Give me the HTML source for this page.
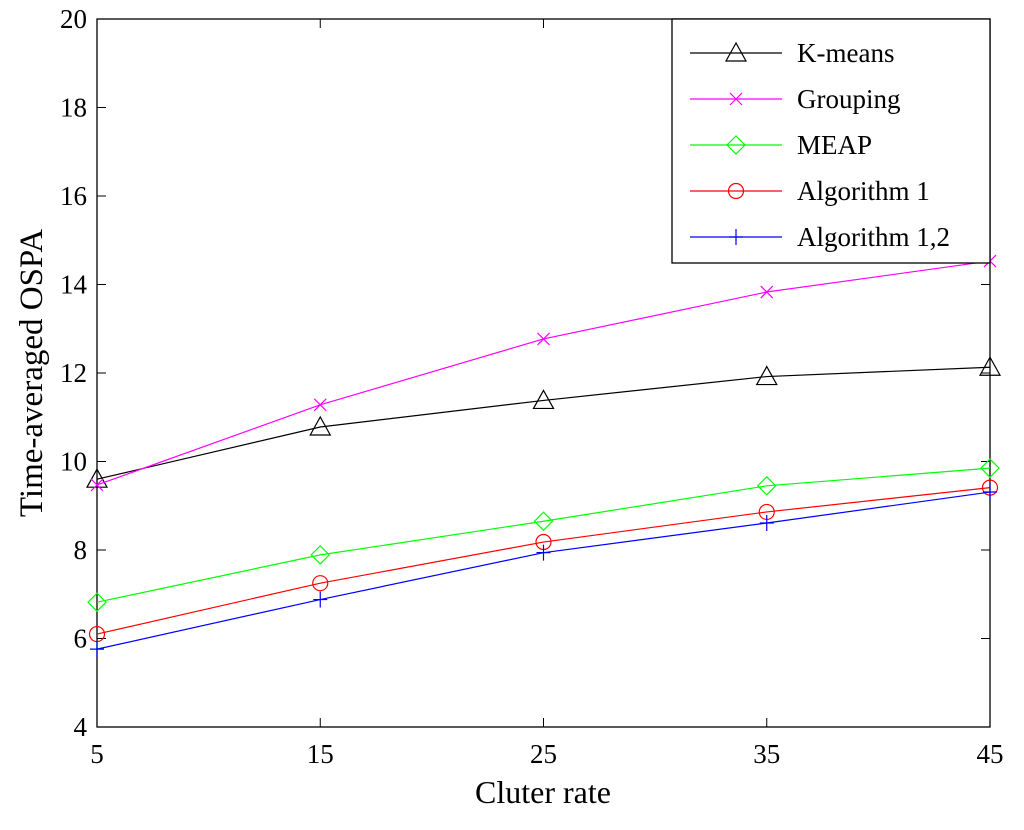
<!DOCTYPE html>
<html><head><meta charset="utf-8"><style>
body{margin:0;background:#fff}
svg text{font-family:"Liberation Serif",serif;fill:#000}
</style></head><body>
<svg id="chart" width="1024" height="825" xmlns="http://www.w3.org/2000/svg">
<rect x="0" y="0" width="1024" height="825" fill="#fff"/>
<g id="axes"></g>
<g id="series"></g>
<g id="legend"></g>
<text x="543" y="803" font-size="32" text-anchor="middle">Cluter rate</text>
<text transform="translate(42,373) rotate(-90)" font-size="33" text-anchor="middle">Time-averaged OSPA</text>
</svg>
<script>
const categories=[5,15,25,35,45];
const xTicks=[5,15,25,35,45];
const yTicks=[4,6,8,10,12,14,16,18,20];
const seriesNames=["K-means","Grouping","MEAP","Algorithm 1","Algorithm 1,2"];
const kmeans=[9.6,10.78,11.38,11.92,12.13];
const grouping=[9.47,11.28,12.77,13.83,14.53];
const meap=[6.82,7.89,8.65,9.45,9.85];
const alg1=[6.1,7.25,8.18,8.86,9.41];
const alg12=[5.76,6.88,7.94,8.61,9.31];
const colors=["#000","#ff00ff","#00ff00","#ff0000","#0000ff"];
const markers=["tri","x","dia","circ","plus"];
const allSeries=[kmeans,grouping,meap,alg1,alg12];
const L=97,R=990,T=19,B=727;
const xs=v=>L+(v-5)/40*(R-L);
const ys=v=>B-(v-4)/16*(B-T);
const NS="http://www.w3.org/2000/svg";
function mk(tag,attrs,parent){const e=document.createElementNS(NS,tag);for(const k in attrs)e.setAttribute(k,attrs[k]);parent.appendChild(e);return e;}
const ax=document.getElementById('axes');
const frame=mk('rect',{x:L,y:T,width:R-L,height:B-T,fill:'none',stroke:'#000','stroke-width':1.3},ax);


xTicks.forEach(v=>{const x=xs(v);
mk('line',{x1:x,y1:B,x2:x,y2:B-9,stroke:'#000'},ax);
mk('line',{x1:x,y1:T,x2:x,y2:T+9,stroke:'#000'},ax);
const t=mk('text',{x:x,y:B+36,'font-size':27,'text-anchor':'middle'},ax);t.textContent=v;

});
yTicks.forEach(v=>{const y=ys(v);
mk('line',{x1:L,y1:y,x2:L+9,y2:y,stroke:'#000'},ax);
mk('line',{x1:R,y1:y,x2:R-9,y2:y,stroke:'#000'},ax);
const t=mk('text',{x:L-10,y:y+9,'font-size':27,'text-anchor':'end'},ax);t.textContent=v;

});
function marker(type,x,y,c,p){
if(type==='tri')mk('polygon',{points:`${x},${y-10} ${x-10},${y+8} ${x+10},${y+8}`,fill:'none',stroke:c,'stroke-width':1.2},p);
else if(type==='x'){mk('path',{d:`M${x-6},${y-6}L${x+6},${y+6}M${x-6},${y+6}L${x+6},${y-6}`,stroke:c,'stroke-width':1.2},p);}
else if(type==='dia')mk('polygon',{points:`${x},${y-9} ${x+9},${y} ${x},${y+9} ${x-9},${y}`,fill:'none',stroke:c,'stroke-width':1.2},p);
else if(type==='circ')mk('circle',{cx:x,cy:y,r:7.5,fill:'none',stroke:c,'stroke-width':1.2},p);
else mk('path',{d:`M${x-7},${y}L${x+7},${y}M${x},${y-8}L${x},${y+8}`,stroke:c,'stroke-width':1.2},p);}
const sg=document.getElementById('series');
allSeries.forEach((s,i)=>{const g=mk('g',{},sg);


mk('polyline',{points:s.map((v,j)=>xs(categories[j])+','+ys(v)).join(' '),fill:'none',stroke:colors[i],'stroke-width':1.2},g);
s.forEach((v,j)=>marker(markers[i],xs(categories[j]),ys(v),colors[i],g));});
const lg=document.getElementById('legend');
const lb=mk('rect',{x:672,y:T,width:R-672,height:244,fill:'#fff',stroke:'#000','stroke-width':1.3},lg);


seriesNames.forEach((n,i)=>{const y=53+i*46;const g=mk('g',{},lg);


mk('line',{x1:690,y1:y,x2:782,y2:y,stroke:colors[i],'stroke-width':1.2},g);
marker(markers[i],736,y,colors[i],g);
const t=mk('text',{x:797,y:y+9,'font-size':27},g);t.textContent=n;});
</script>
</body></html>
